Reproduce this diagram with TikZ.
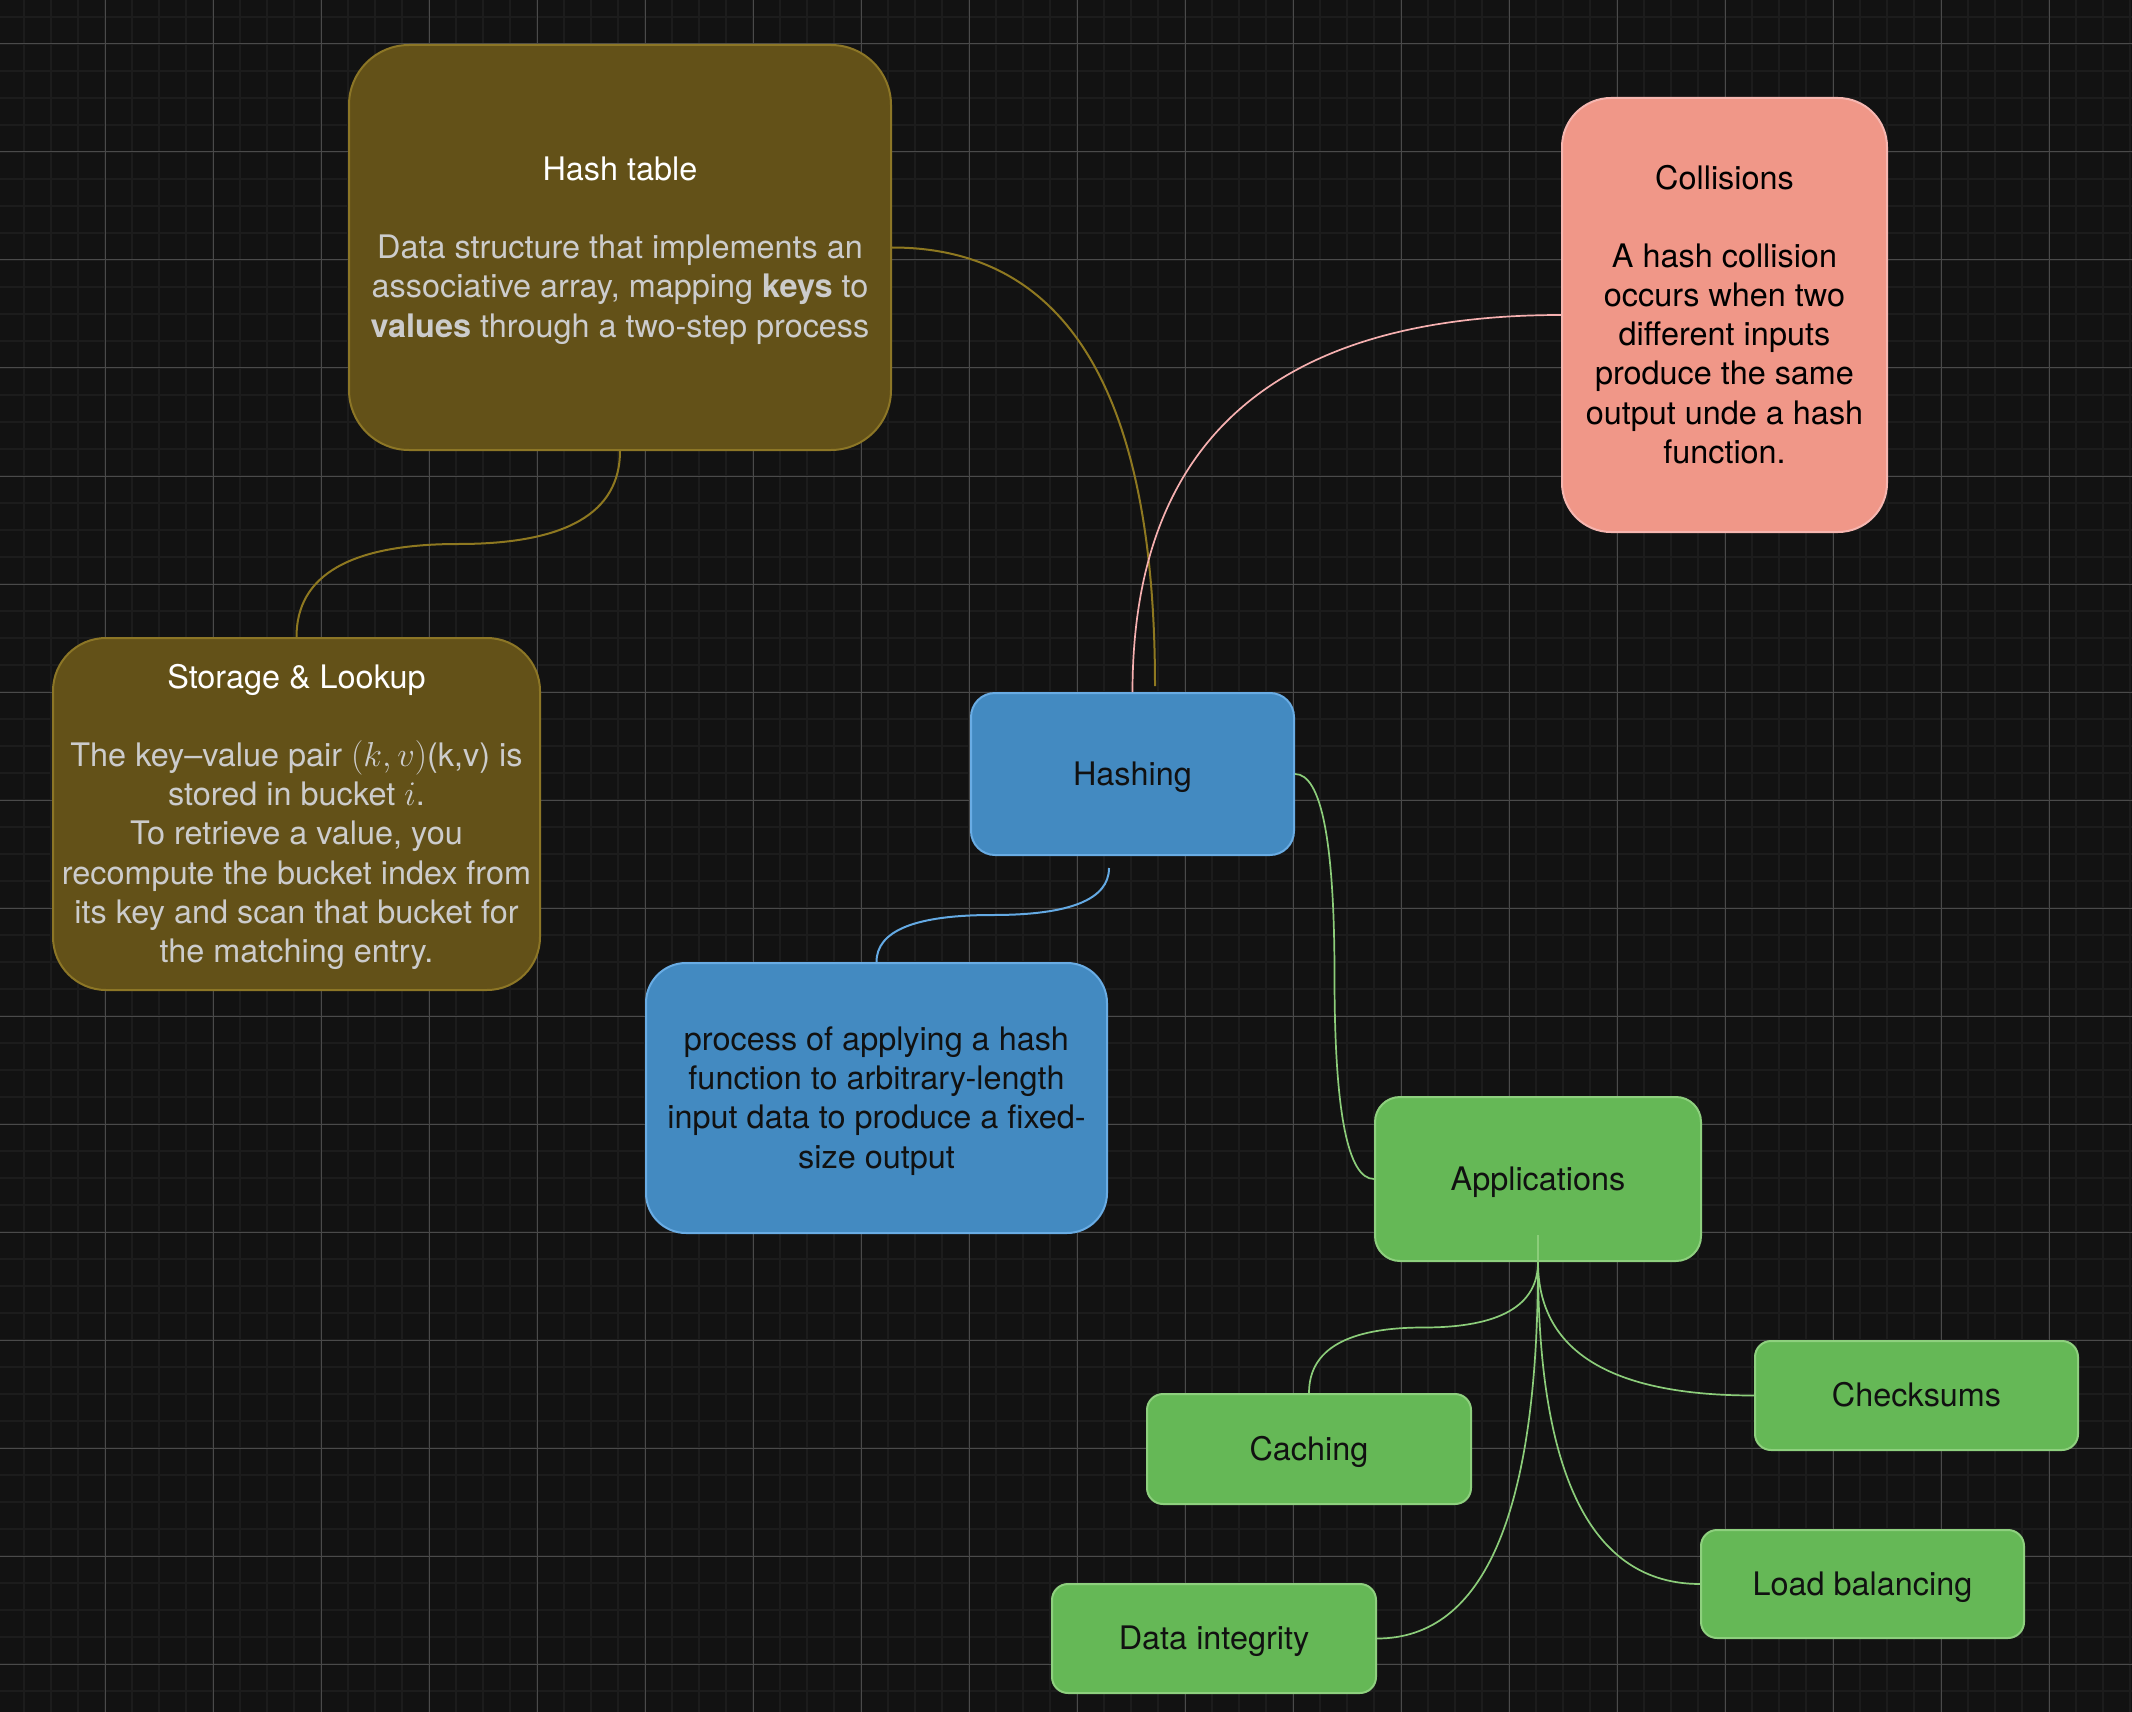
\documentclass[tikz,border=0pt]{standalone}
\usepackage{fontspec}
\setmainfont{TeX Gyre Heros}
\usetikzlibrary{calc}
\definecolor{bg}{RGB}{18,18,18}
\definecolor{gridminor}{RGB}{28,28,28}
\definecolor{gridmajor}{RGB}{74,74,74}
\definecolor{olivefill}{RGB}{99,81,24}
\definecolor{olivedraw}{RGB}{140,118,38}
\definecolor{oliveedge}{RGB}{142,120,32}
\definecolor{bluefill}{RGB}{67,138,193}
\definecolor{bluedraw}{RGB}{105,172,228}
\definecolor{blueedge}{RGB}{100,170,228}
\definecolor{pinkfill}{RGB}{240,151,136}
\definecolor{pinkdraw}{RGB}{246,182,176}
\definecolor{pinkedge}{RGB}{246,176,176}
\definecolor{greenfill}{RGB}{101,184,86}
\definecolor{greendraw}{RGB}{142,208,126}
\definecolor{greenedge}{RGB}{140,205,122}
\definecolor{bodygray}{RGB}{204,204,204}
\definecolor{darktext}{RGB}{17,17,17}
\newcommand{\tstr}{\rule{0pt}{15.3pt}}
\newcommand{\bstr}{\rule[-4.1pt]{0pt}{0pt}}
\begin{document}
\begin{tikzpicture}[x=0.5pt,y=-0.5pt,
  card/.style={draw, line width=1pt, inner sep=0pt, align=center,
    font=\fontsize{16.2pt}{19.6pt}\selectfont},
  olivecard/.style={card, fill=olivefill, draw=olivedraw, text=bodygray},
  bluecard/.style={card, fill=bluefill, draw=bluedraw, text=darktext},
  pinkcard/.style={card, fill=pinkfill, draw=pinkdraw, text=black},
  greencard/.style={card, fill=greenfill, draw=greendraw, text=darktext},
  oline/.style={draw=oliveedge, line width=1pt},
  bline/.style={draw=blueedge, line width=1pt},
  pline/.style={draw=pinkedge, line width=0.85pt},
  gline/.style={draw=greenedge, line width=0.85pt},
  minorline/.style={draw=gridminor, line width=1pt},
  majorline/.style={draw=gridmajor, line width=0.5pt}
]
% background and grid
\fill[bg] (0,0) rectangle (2132,1712);
\useasboundingbox (0,0) rectangle (2132,1712);
\foreach \i in {0,...,78} \draw[minorline] ({24+27*\i},0) -- ({24+27*\i},1712);
\foreach \i in {0,...,62} \draw[minorline] (0,{17+27*\i}) -- (2132,{17+27*\i});
\foreach \i in {0,...,18} \draw[majorline] ({105+108*\i},0) -- ({105+108*\i},1712);
\foreach \i in {0,...,15} \draw[majorline] (0,{44+108*\i}) -- (2132,{44+108*\i});

% nodes
\node[olivecard, minimum width=271pt, minimum height=202.5pt, rounded corners=30pt] (hash) at (620,247.5)
  {\tstr\textcolor{white}{Hash table}\\[19.6pt]
   Data structure that implements an\\
   associative array, mapping \textbf{keys} to\\
   \textbf{values} through a two-step process\bstr};
\node[olivecard, minimum width=243.5pt, minimum height=176pt, rounded corners=26.5pt] (store) at (296.5,814)
  {\tstr\textcolor{white}{Storage \& Lookup}\\[19.6pt]
   The key–value pair $(k,v)$(k,v) is\\
   stored in bucket $i$.\\
   To retrieve a value, you\\
   recompute the bucket index from\\
   its key and scan that bucket for\\
   the matching entry.\bstr};
\node[bluecard, minimum width=161.5pt, minimum height=81pt, rounded corners=12pt] (hashing) at (1132.5,774) {\tstr Hashing\bstr};
\node[bluecard, minimum width=230.5pt, minimum height=135pt, rounded corners=20pt] (desc) at (876.5,1098)
  {\tstr process of applying a hash\\
   function to arbitrary-length\\
   input data to produce a fixed-\\
   size output\bstr};
\node[pinkcard, minimum width=162.5pt, minimum height=217pt, rounded corners=24.5pt] (coll) at (1724.5,315)
  {\tstr Collisions\\[19.6pt]
   A hash collision\\
   occurs when two\\
   different inputs\\
   produce the same\\
   output unde a hash\\
   function.\bstr};
\node[greencard, minimum width=163pt, minimum height=82pt, rounded corners=12.5pt] (apps) at (1538,1179) {\tstr Applications\bstr};
\node[greencard, minimum width=162pt, minimum height=55pt, rounded corners=8pt] (cache) at (1309,1449) {\tstr Caching\bstr};
\node[greencard, minimum width=161.5pt, minimum height=54.5pt, rounded corners=8pt] (check) at (1916.5,1395.5) {\tstr Checksums\bstr};
\node[greencard, minimum width=161.5pt, minimum height=54pt, rounded corners=8pt] (lb) at (1862.5,1584) {\tstr Load balancing\bstr};
\node[greencard, minimum width=162pt, minimum height=54.5pt, rounded corners=8pt] (di) at (1214,1638.5) {\tstr Data integrity\bstr};

% helper coordinates
\coordinate (h1) at ($(hashing.north)+(22.5,-6)$);
\coordinate (c1) at (h1 |- hash.east);
\coordinate (c2) at (hashing.north |- coll.west);
\coordinate (m3) at ($(hash.south)!0.5!(store.north)$);
\coordinate (c3a) at (hash.south |- m3);
\coordinate (c3b) at (store.north |- m3);
\coordinate (hb) at ($(hashing.south)+(-23.5,12)$);
\coordinate (m4) at ($(hb)!0.5!(desc.north)$);
\coordinate (c4a) at (hb |- m4);
\coordinate (c4b) at (desc.north |- m4);
\coordinate (m5) at ($(hashing.east)!0.5!(apps.west)$);
\coordinate (c5a) at (m5 |- hashing.east);
\coordinate (c5b) at (m5 |- apps.west);
\coordinate (a0) at ($(apps.south)+(0,-27)$);
\coordinate (m6) at ($(apps.south)!0.5!(cache.north)$);
\coordinate (c6a) at (apps.south |- m6);
\coordinate (c6b) at (cache.north |- m6);
\coordinate (c7) at (apps.south |- check.west);
\coordinate (c8) at (apps.south |- lb.west);
\coordinate (c9) at (apps.south |- di.east);

% connectors
\draw[oline] (hash.east) .. controls ($(hash.east)!0.6667!(c1)$) and ($(h1)!0.6667!(c1)$) .. (h1);
\draw[pline] (coll.west) .. controls ($(coll.west)!0.6667!(c2)$) and ($(hashing.north)!0.6667!(c2)$) .. (hashing.north);
\draw[oline] (hash.south) .. controls ($(hash.south)!0.6667!(c3a)$) and ($(m3)!0.6667!(c3a)$) .. (m3)
  .. controls ($(m3)!0.6667!(c3b)$) and ($(store.north)!0.6667!(c3b)$) .. (store.north);
\draw[bline] (hb) .. controls ($(hb)!0.6667!(c4a)$) and ($(m4)!0.6667!(c4a)$) .. (m4)
  .. controls ($(m4)!0.6667!(c4b)$) and ($(desc.north)!0.6667!(c4b)$) .. (desc.north);
\draw[gline] (hashing.east) .. controls ($(hashing.east)!0.6667!(c5a)$) and ($(m5)!0.6667!(c5a)$) .. (m5)
  .. controls ($(m5)!0.6667!(c5b)$) and ($(apps.west)!0.6667!(c5b)$) .. (apps.west);
\draw[gline] (a0) -- (apps.south);
\draw[gline] (apps.south) .. controls ($(apps.south)!0.6667!(c6a)$) and ($(m6)!0.6667!(c6a)$) .. (m6)
  .. controls ($(m6)!0.6667!(c6b)$) and ($(cache.north)!0.6667!(c6b)$) .. (cache.north);
\draw[gline] (apps.south) .. controls ($(apps.south)!0.6667!(c7)$) and ($(check.west)!0.6667!(c7)$) .. (check.west);
\draw[gline] (apps.south) .. controls ($(apps.south)!0.6667!(c8)$) and ($(lb.west)!0.6667!(c8)$) .. (lb.west);
\draw[gline] (apps.south) .. controls ($(apps.south)!0.6667!(c9)$) and ($(di.east)!0.6667!(c9)$) .. (di.east);
\end{tikzpicture}
\end{document}
